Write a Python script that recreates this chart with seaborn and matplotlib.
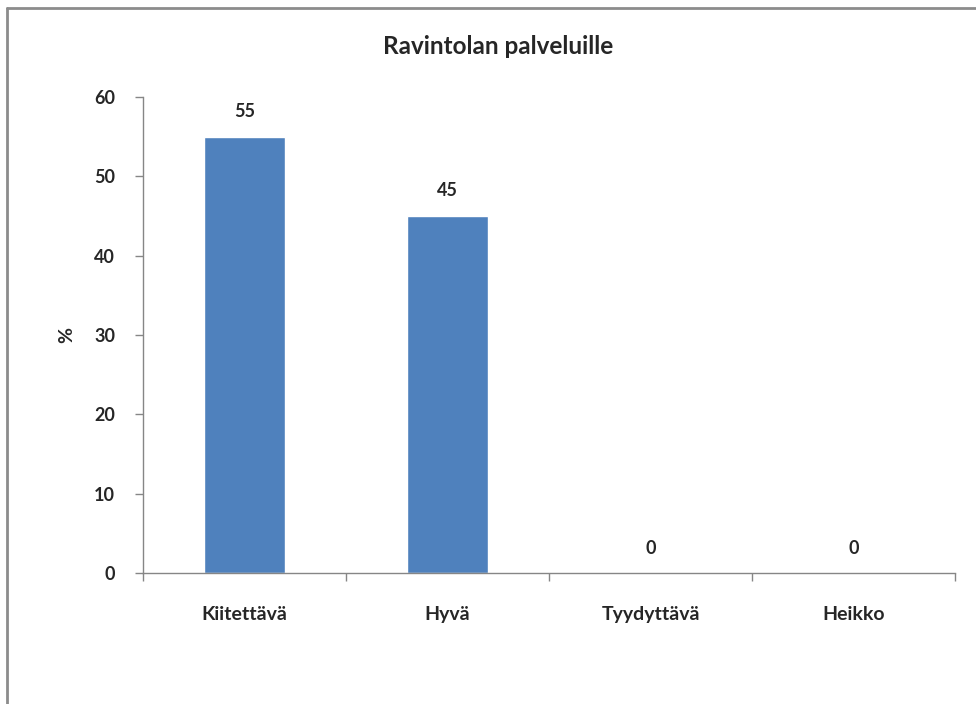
import matplotlib
matplotlib.use("Agg")
import matplotlib.pyplot as plt
import seaborn as sns
import pandas as pd
from matplotlib.lines import Line2D

categories = ["Kiitettävä", "Hyvä", "Tyydyttävä", "Heikko"]
values = [55, 45, 0, 0]
y_ticks = [0, 10, 20, 30, 40, 50, 60]
title = "Ravintolan palveluille"
y_label = "%"

sns.set_theme(style="white")
plt.rcParams["font.family"] = ["Lato", "DejaVu Sans"]
plt.rcParams["font.weight"] = "bold"

df = pd.DataFrame({"category": categories, "value": values})

fig = plt.figure(figsize=(9.76, 7.04), dpi=100)
ax = fig.add_axes([143 / 976, 1 - 573 / 704, (955 - 143) / 976, (573 - 97) / 704])

sns.barplot(data=df, x="category", y="value", color="#4F81BD", width=0.4,
            saturation=1, ax=ax)

ax.set_xlim(-0.5, len(categories) - 0.5)
ax.set_ylim(0, 60)
ax.set_yticks(y_ticks)
ax.set_yticklabels([str(t) for t in y_ticks], fontsize=13, fontweight="bold")
ax.set_xticks([i - 0.5 for i in range(len(categories) + 1)], minor=False)
ax.set_xticklabels([])
ax.set_xticks(range(len(categories)), minor=True)
ax.set_xticklabels(categories, minor=True, fontsize=14, fontweight="bold")
ax.tick_params(axis="x", which="minor", length=0, pad=24)
ax.tick_params(axis="x", which="major", direction="out", length=6, width=1,
               color="#868686", bottom=True)
ax.tick_params(axis="y", direction="out", length=6, width=1, color="#868686",
               left=True, pad=14)
ax.set_xlabel("")
ax.set_ylabel(y_label, fontsize=14, fontweight="bold", labelpad=14)

fig.text(498 / 976, 1 - 47 / 704, title, ha="center", va="center",
         fontsize=17.5, fontweight="bold")

for side in ["top", "right"]:
    ax.spines[side].set_visible(False)
for side in ["left", "bottom"]:
    ax.spines[side].set_color("#868686")
    ax.spines[side].set_linewidth(1)

for i, v in enumerate(values):
    ax.annotate(str(v), (i, v), xytext=(0, 18), textcoords="offset points",
                ha="center", va="center", fontsize=13, fontweight="bold")

# frame around the chart area
fig.add_artist(Line2D([7 / 976, 7 / 976], [0, 1 - 8 / 704], transform=fig.transFigure,
                      color="#8c8c8c", linewidth=2))
fig.add_artist(Line2D([7 / 976, 1], [1 - 8 / 704, 1 - 8 / 704], transform=fig.transFigure,
                      color="#8c8c8c", linewidth=2))

fig.savefig("out.png", dpi=100)
